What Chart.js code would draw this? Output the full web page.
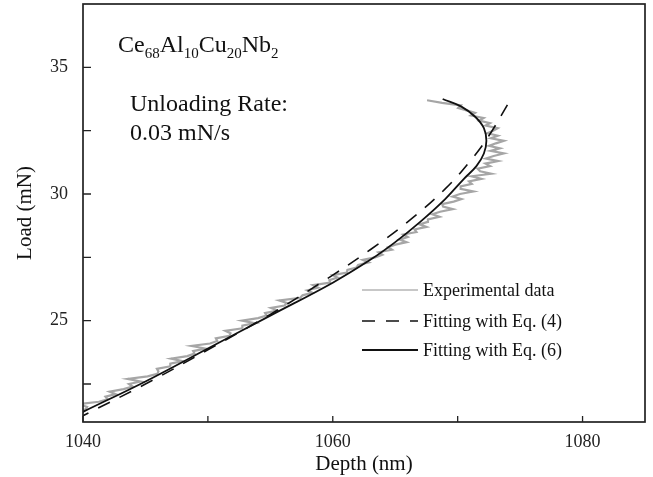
<!DOCTYPE html>
<html><head><meta charset="utf-8">
<script src="https://cdn.jsdelivr.net/npm/chart.js@4"></script>
<style>html,body{margin:0;padding:0;background:#fff}#wrap{width:653px;height:477px;position:relative}canvas{display:block}</style>
</head><body><div id="wrap"><canvas id="c" width="653" height="477"></canvas></div>
<script>
const xTicks = [1040, 1050, 1060, 1070, 1080];
const xLabels = [1040, 1060, 1080];
const yTicks = [22.5, 25, 27.5, 30, 32.5, 35];
const yLabels = [25, 30, 35];

const expLoad = [21.3,21.4,21.5,21.6,21.7,21.8,21.9,22.0,22.1,22.2,22.3,22.4,22.5,22.6,22.7,22.8,22.9,23.0,23.1,23.2,23.3,23.4,23.5,23.6,23.7,23.8,23.9,24.0,24.1,24.2,24.3,24.4,24.5,24.6,24.7,24.8,24.9,25.0,25.1,25.2,25.3,25.4,25.5,25.6,25.7,25.8,25.9,26.0,26.1,26.2,26.3,26.4,26.5,26.6,26.7,26.8,26.9,27.0,27.1,27.2,27.3,27.4,27.5,27.6,27.7,27.8,27.9,28.0,28.1,28.2,28.3,28.4,28.5,28.6,28.7,28.8,28.9,29.0,29.1,29.2,29.3,29.4,29.5,29.6,29.7,29.8,29.9,30.0,30.1,30.2,30.3,30.4,30.5,30.6,30.7,30.8,30.9,31.0,31.1,31.2,31.3,31.4,31.5,31.6,31.7,31.8,31.9,32.0,32.1,32.2,32.3,32.4,32.5,32.6,32.7,32.8,32.9,33.0,33.1,33.2,33.3,33.4,33.5,33.6,33.7];
const expDepth = [1039.28,1039.2,1040.22,1040.33,1039.65,1041.27,1041.98,1041.8,1042.62,1042.13,1043.25,1043.97,1043.68,1044.6,1043.58,1045.17,1045.95,1046.04,1045.92,1047.01,1046.99,1047.98,1047.06,1048.35,1048.93,1048.82,1049.8,1048.68,1050.17,1050.75,1050.64,1051.72,1051.81,1051.39,1052.78,1052.76,1053.75,1052.73,1054.02,1054.7,1054.58,1055.57,1055.05,1056.14,1056.32,1055.71,1057.39,1057.58,1058.36,1057.95,1058.83,1058.42,1059.8,1059.73,1060.37,1060.0,1061.13,1061.17,1061.9,1062.03,1062.87,1062.4,1063.39,1063.97,1063.66,1064.74,1064.43,1065.01,1065.9,1065.35,1066.0,1065.65,1066.7,1066.55,1067.5,1066.95,1067.6,1067.62,1068.54,1067.97,1068.59,1069.61,1068.83,1068.76,1069.68,1070.3,1069.59,1070.18,1071.26,1070.25,1070.24,1071.13,1070.91,1071.9,1071.1,1072.7,1071.8,1071.6,1072.6,1072.22,1073.24,1072.26,1072.88,1073.7,1072.64,1073.38,1072.52,1073.06,1073.7,1072.66,1073.22,1072.38,1072.84,1073.2,1072.24,1072.59,1071.73,1072.08,1071.06,1071.39,1070.71,1070.04,1070.25,1068.75,1067.55];

const eq4Depth = [1039.5,1040,1045,1050,1055,1060,1063,1066,1069,1071,1072.5,1074.2];
const eq4Load  = [21.12,21.25,22.5,23.85,25.25,26.8,27.8,28.9,30.2,31.3,32.3,33.7];

const eq6Depth = [1039.5,1040,1045,1050,1055,1060,1063,1065,1067,1069,1070.5,1071.5,1072.1,1072.3,1072.1,1071.4,1070.3,1068.8];
const eq6Load  = [21.27,21.4,22.6,23.9,25.2,26.5,27.4,28.1,28.9,29.8,30.6,31.1,31.6,32.1,32.6,33.05,33.45,33.75];

const legendNames = ['Experimental data', 'Fitting with Eq. (4)', 'Fitting with Eq. (6)'];

const SERIF = '"Liberation Serif", "DejaVu Serif", serif';
const toPts = (xs, ys) => xs.map((x, i) => ({x, y: ys[i]}));

const framePlugin = {
  id: 'frame',
  afterDraw(chart) {
    const {ctx, chartArea: a, scales} = chart;
    ctx.save();
    ctx.strokeStyle = '#222';
    ctx.lineWidth = 1.7;
    ctx.strokeRect(a.left, a.top, a.right - a.left, a.bottom - a.top);
    ctx.lineWidth = 1.3;
    ctx.beginPath();
    xTicks.forEach(v => {
      const px = scales.x.getPixelForValue(v);
      ctx.moveTo(px, a.bottom); ctx.lineTo(px, a.bottom - 6);
    });
    yTicks.forEach(v => {
      const py = scales.y.getPixelForValue(v);
      ctx.moveTo(a.left, py); ctx.lineTo(a.left + 8, py);
    });
    ctx.stroke();
    ctx.restore();
  }
};

const textPlugin = {
  id: 'texts',
  afterDraw(chart) {
    const {ctx} = chart;
    ctx.save();
    ctx.fillStyle = '#111';
    ctx.textBaseline = 'alphabetic';
    ctx.textAlign = 'left';
    const parts = [['Ce', 0], ['68', 1], ['Al', 0], ['10', 1], ['Cu', 0], ['20', 1], ['Nb', 0], ['2', 1]];
    let x = 118;
    parts.forEach(([t, sub]) => {
      ctx.font = (sub ? '15px ' : '24px ') + SERIF;
      ctx.fillText(t, x, sub ? 58 : 52);
      x += ctx.measureText(t).width;
    });
    ctx.font = '24px ' + SERIF;
    ctx.fillText('Unloading Rate:', 130, 111);
    ctx.fillText('0.03 mN/s', 130, 140);

    const rows = [290, 321, 350];
    ctx.font = '18px ' + SERIF;
    ctx.textBaseline = 'middle';
    chart.data.datasets.forEach((ds, i) => {
      const y = rows[i];
      ctx.beginPath();
      ctx.strokeStyle = ds.legendColor || ds.borderColor;
      ctx.lineWidth = ds.legendWidth || ds.borderWidth;
      ctx.setLineDash(ds.borderDash || []);
      ctx.moveTo(362, y); ctx.lineTo(418, y);
      ctx.stroke();
      ctx.setLineDash([]);
      ctx.fillStyle = '#111';
      ctx.fillText(legendNames[i], 423, y + 1);
    });
    ctx.restore();
  }
};

new Chart(document.getElementById('c'), {
  type: 'scatter',
  data: {
    datasets: [
      { label: legendNames[0], data: toPts(expDepth, expLoad), showLine: true, borderColor: '#a6a6a6', legendColor: '#b4b4b4', legendWidth: 1.5, borderWidth: 2.2, pointRadius: 0, tension: 0, order: 3 },
      { label: legendNames[1], data: toPts(eq4Depth, eq4Load), showLine: true, borderColor: '#111', borderWidth: 1.6, borderDash: [13, 11], pointRadius: 0, tension: 0.4, order: 2 },
      { label: legendNames[2], data: toPts(eq6Depth, eq6Load), showLine: true, borderColor: '#111', borderWidth: 1.8, pointRadius: 0, tension: 0.4, order: 1 }
    ]
  },
  options: {
    responsive: false,
    animation: false,
    devicePixelRatio: 1,
    layout: { padding: { top: 4, right: 8, left: 0, bottom: 0 } },
    plugins: { legend: { display: false }, tooltip: { enabled: false } },
    scales: {
      x: {
        type: 'linear', min: 1040, max: 1085,
        afterBuildTicks: s => { s.ticks = xTicks.map(v => ({value: v})); },
        afterFit: s => { s.height = 55; s.paddingLeft = 0; s.paddingRight = 0; s.paddingTop = 0; s.paddingBottom = 0; },
        grid: { display: false, drawTicks: false },
        border: { display: false },
        ticks: { callback: v => xLabels.includes(v) ? String(v) : '', font: { family: SERIF, size: 18 }, color: '#222', padding: 9, maxRotation: 0, autoSkip: false },
        title: { display: true, text: 'Depth (nm)', font: { family: SERIF, size: 21 }, color: '#111', padding: { top: 0, bottom: 0 } }
      },
      y: {
        type: 'linear', min: 21, max: 37.5,
        afterBuildTicks: s => { s.ticks = yTicks.map(v => ({value: v})); },
        afterFit: s => { s.width = 83; s.paddingLeft = 0; s.paddingRight = 0; s.paddingTop = 0; s.paddingBottom = 0; },
        grid: { display: false, drawTicks: false },
        border: { display: false },
        ticks: { callback: v => yLabels.includes(v) ? String(v) : '', font: { family: SERIF, size: 18 }, color: '#222', padding: 15, autoSkip: false },
        title: { display: true, text: 'Load (mN)', font: { family: SERIF, size: 21 }, color: '#111', padding: { top: 13, bottom: 0 } }
      }
    }
  },
  plugins: [framePlugin, textPlugin]
});
</script>
</body></html>
